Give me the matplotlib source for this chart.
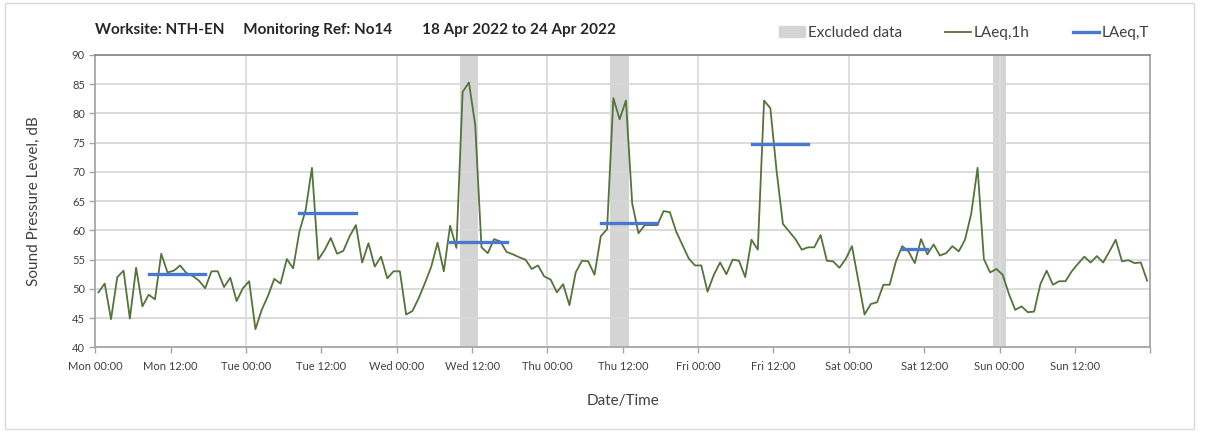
import numpy as np
import matplotlib
matplotlib.use('Agg')
import matplotlib.pyplot as plt
from matplotlib.patches import Patch, Rectangle
from matplotlib.lines import Line2D

plt.rcParams['font.family'] = ['Lato', 'DejaVu Sans']

# hourly LAeq,1h from Mon 00:00 (plotted at mid-hour)
laeq_1h = [
    49.4, 50.9, 44.8, 52.0, 53.1, 44.9, 53.6, 47.0, 49.0, 48.2, 56.0, 52.8,
    53.1, 54.0, 52.7, 52.2, 51.4, 50.1, 53.0, 53.0, 50.3, 51.9, 47.9, 50.1,
    51.3, 43.1, 46.4, 48.8, 51.7, 50.9, 55.1, 53.5, 59.8, 63.5, 70.7, 55.0,
    56.6, 58.7, 56.0, 56.5, 59.0, 60.9, 54.5, 57.8, 53.8, 55.5, 51.8, 53.0,
    53.0, 45.6, 46.2, 48.4, 51.0, 53.8, 57.9, 53.0, 60.8, 57.0, 83.7, 85.3,
    78.0, 57.1, 56.1, 58.5, 58.1, 56.3, 55.9, 55.4, 55.0, 53.4, 54.0, 52.1,
    51.6, 49.4, 50.8, 47.2, 52.8, 54.8, 54.7, 52.4, 59.0, 60.2, 82.6, 79.0,
    82.2, 64.6, 59.5, 60.9, 60.9, 60.9, 63.3, 63.1, 59.8, 57.5, 55.2, 54.0,
    54.0, 49.5, 52.4, 54.5, 52.5, 55.0, 54.8, 52.0, 58.4, 56.7, 82.2, 80.9,
    70.1, 61.1, 59.8, 58.5, 56.7, 57.1, 57.1, 59.2, 54.8, 54.7, 53.6, 55.1,
    57.3, 51.5, 45.6, 47.4, 47.7, 50.7, 50.7, 54.7, 57.3, 56.4, 54.4, 58.5,
    55.9, 57.6, 55.7, 56.1, 57.3, 56.4, 58.4, 62.9, 70.7, 55.1, 52.8, 53.4,
    52.4, 49.1, 46.4, 47.0, 46.0, 46.1, 50.8, 53.1, 50.7, 51.3, 51.3, 53.0,
    54.3, 55.5, 54.5, 55.6, 54.5, 56.4, 58.4, 54.7, 54.9, 54.4, 54.5, 51.4,
]
hours = np.arange(len(laeq_1h)) + 0.5

# LAeq,T daytime periods (hours from Mon 00:00)
laeqT_start = [8.5, 32.5, 56.5, 80.5, 104.5, 128.5]
laeqT_end = [17.5, 41.5, 65.5, 89.5, 113.5, 132.5]
laeqT_level = [52.5, 62.9, 58.0, 61.3, 74.8, 56.8]

# excluded data windows
excl_start = [58, 82, 143]
excl_end = [61, 85, 145]

tick_labels = ['Mon 00:00', 'Mon 12:00', 'Tue 00:00', 'Tue 12:00', 'Wed 00:00',
               'Wed 12:00', 'Thu 00:00', 'Thu 12:00', 'Fri 00:00', 'Fri 12:00',
               'Sat 00:00', 'Sat 12:00', 'Sun 00:00', 'Sun 12:00', '']

green = '#55733c'
blue = '#4a78cf'
grey = '#d4d4d4'

fig = plt.figure(figsize=(12.08, 4.32), dpi=100)
ax = fig.add_axes([0.0789, 0.1961, 0.8733, 0.6766])

for s, e in zip(excl_start, excl_end):
    ax.axvspan(s, e, color=grey, lw=0, zorder=0.2)

ax.plot(hours, laeq_1h, color=green, lw=1.3, zorder=2)
for s, e, v in zip(laeqT_start, laeqT_end, laeqT_level):
    ax.plot([s, e], [v, v], color=blue, lw=2.4, zorder=3)

ax.set_xlim(0, 168)
ax.set_ylim(40, 90)
ax.set_yticks(np.arange(40, 91, 5))
ax.set_xticks(np.arange(0, 169, 12))
ax.set_xticklabels(tick_labels)
ax.set_axisbelow(True)
ax.yaxis.grid(True, color='#d9d9d9', lw=1.3)
for d in range(24, 168, 24):
    ax.axvline(d, color='#dcdcdc', lw=1.3, zorder=0.5)

for sp in ax.spines.values():
    sp.set_color('#a6a6a6')
    sp.set_linewidth(1.3)
ax.spines['top'].set_color('#8c8c8c')
ax.tick_params(axis='both', colors='#a6a6a6', labelcolor='#404040', labelsize=8,
               length=4, width=1)
ax.tick_params(axis='x', pad=6)

ax.set_ylabel('Sound Pressure Level, dB', fontsize=11, color='#404040', labelpad=22)
ax.set_xlabel('Date/Time', fontsize=11, color='#404040', labelpad=16)

fig.text(0.079, 0.930, 'Worksite: NTH-EN     Monitoring Ref: No14        18 Apr 2022 to 24 Apr 2022',
         fontsize=11, fontweight='bold', color='#262626', va='center')

handles = [Patch(color=grey), Line2D([], [], color=green, lw=1.3),
           Line2D([], [], color=blue, lw=2.4)]
ax.legend(handles, ['Excluded data', 'LAeq,1h', 'LAeq,T'], ncol=3, frameon=False,
          loc='center right', bbox_to_anchor=(1.012, 1.075), fontsize=11,
          handlelength=1.7, handletextpad=0.2, columnspacing=2.8,
          labelcolor='#404040')

fig.patches.append(Rectangle((5 / 1208, 3 / 432), 1189 / 1208, 426 / 432,
                             transform=fig.transFigure, fill=False,
                             edgecolor='#d9d9d9', lw=1))

fig.savefig('out.png', dpi=100)
